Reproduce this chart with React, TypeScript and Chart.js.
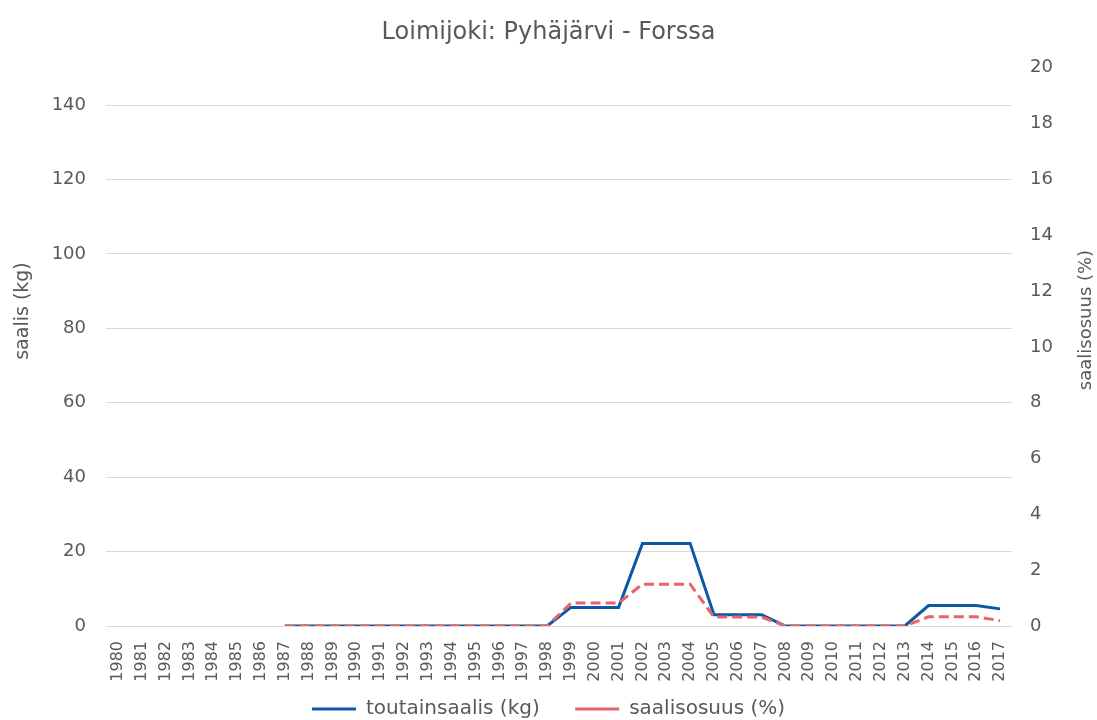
import React, { useEffect, useRef } from "react";
import { Chart, registerables } from "chart.js";

Chart.register(...registerables);

const years = Array.from({ length: 38 }, (_, i) => String(1980 + i));
const catchKg: (number | null)[] = [
  null, null, null, null, null, null, null,
  0, 0, 0, 0, 0, 0, 0, 0, 0, 0, 0, 0,
  5, 5, 5, 22.2, 22.2, 22.2, 3, 3, 3,
  0, 0, 0, 0, 0, 0,
  5.5, 5.5, 5.5, 4.6,
];
const sharePct: (number | null)[] = [
  null, null, null, null, null, null, null,
  0, 0, 0, 0, 0, 0, 0, 0, 0, 0, 0, 0,
  0.82, 0.82, 0.82, 1.5, 1.5, 1.5, 0.32, 0.32, 0.32,
  0, 0, 0, 0, 0, 0,
  0.33, 0.33, 0.33, 0.19,
];
const leftTitle = "saalis (kg)";
const rightTitle = "saalisosuus (%)";

const FONT = '"Century Gothic", "DejaVu Sans", sans-serif';
const GRAY = "#595959";

const axisTitles = {
  id: "axisTitles",
  afterDraw(chart: any) {
    const ctx = chart.ctx;
    ctx.save();
    ctx.fillStyle = GRAY;
    ctx.textAlign = "center";
    ctx.textBaseline = "middle";
    const draw = (text: string, x: number, y: number, size: number) => {
      ctx.save();
      ctx.font = `${size}px ${FONT}`;
      ctx.translate(x, y);
      ctx.rotate(-Math.PI / 2);
      ctx.fillText(text, 0, 0);
      ctx.restore();
    };
    draw(leftTitle, 23, 311, 19);
    draw(rightTitle, 1086, 320, 18);
    ctx.restore();
  },
};

export default function App() {
  const ref = useRef<HTMLCanvasElement>(null);
  useEffect(() => {
    document.body.style.margin = "0";
    const chart = new Chart(ref.current!, {
      type: "line",
      data: {
        labels: years,
        datasets: [
          {
            label: "toutainsaalis (kg)",
            data: catchKg,
            borderColor: "#0b58a6",
            backgroundColor: "#0b58a6",
            borderWidth: 3,
            pointRadius: 0,
            pointStyle: "line",
            yAxisID: "y",
            tension: 0,
            order: 1,
          },
          {
            label: "saalisosuus (%)",
            data: sharePct,
            borderColor: "#e8646b",
            backgroundColor: "#e8646b",
            borderWidth: 3,
            borderDash: [10, 5],
            pointRadius: 0,
            pointStyle: "line",
            yAxisID: "y1",
            tension: 0,
            order: 0,
          },
        ],
      },
      options: {
        animation: false,
        responsive: false,
        layout: { padding: { left: 0, right: 0, top: 0, bottom: -9 } },
        plugins: {
          title: {
            display: true,
            text: "Loimijoki: Pyhäjärvi - Forssa",
            color: GRAY,
            font: { family: FONT, size: 24, weight: "normal" },
            padding: { top: 18, bottom: 21 },
          },
          legend: {
            position: "bottom",
            labels: {
              color: GRAY,
              font: { family: FONT, size: 20 },
              usePointStyle: true,
              pointStyleWidth: 44,
              boxHeight: 6,
              padding: 10,
              sort: (a: any, b: any) => a.datasetIndex - b.datasetIndex,
              generateLabels: (chart: any) => {
                const items = (Chart as any).defaults.plugins.legend.labels.generateLabels(chart);
                items.forEach((it: any) => {
                  if (it.datasetIndex === 0) it.text = it.text + "    ";
                });
                return items;
              },
            },
          },
          tooltip: { enabled: false },
        },
        scales: {
          x: {
            offset: true,
            grid: { display: false },
            border: { display: false },
            afterFit: (s: any) => {
              s.height = 63;
            },
            ticks: {
              color: GRAY,
              font: { family: FONT, size: 16 },
              minRotation: 90,
              maxRotation: 90,
              autoSkip: false,
              padding: 7,
            },
          },
          y: {
            position: "left",
            min: 0,
            max: 150,
            afterBuildTicks: (axis: any) => {
              axis.ticks = axis.ticks.filter((t: any) => t.value <= 140);
            },
            afterFit: (s: any) => {
              s.width = 106;
            },
            ticks: {
              stepSize: 20,
              color: GRAY,
              font: { family: FONT, size: 18 },
              padding: 20,
            },
            grid: { color: "#d9d9d9", drawTicks: false },
            border: { display: false },
          },
          y1: {
            position: "right",
            min: 0,
            max: 20,
            afterFit: (s: any) => {
              s.width = 85;
            },
            ticks: {
              stepSize: 2,
              color: GRAY,
              font: { family: FONT, size: 18 },
              padding: 18,
            },
            grid: { display: false, drawTicks: false },
            border: { display: false },
          },
        },
      },
      plugins: [axisTitles],
    } as any);
    return () => chart.destroy();
  }, []);
  return <canvas ref={ref} width={1097} height={720} style={{ display: "block" }} />;
}
